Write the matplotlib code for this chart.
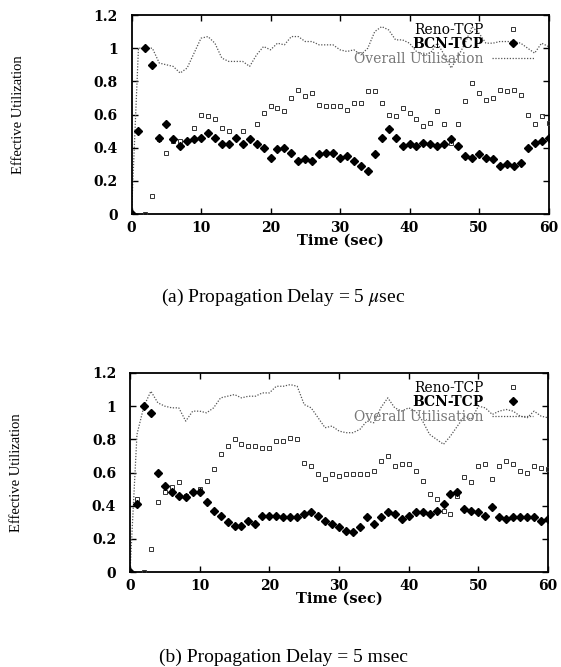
import numpy as np
import matplotlib
matplotlib.use("Agg")
import matplotlib.pyplot as plt

plt.rcParams['mathtext.fontset'] = 'stix'

time = list(range(61))

# (a) propagation delay = 5 usec
reno_a = [0, 0.50, 0, 0.11, 0.45, 0.37, 0.44, 0.44, 0.44, 0.52,
          0.60, 0.59, 0.57, 0.52, 0.50, 0.46, 0.50, 0.45, 0.54, 0.61,
          0.65, 0.64, 0.62, 0.70, 0.75, 0.71, 0.73, 0.66, 0.65, 0.65,
          0.65, 0.63, 0.67, 0.67, 0.74, 0.74, 0.67, 0.60, 0.59, 0.64,
          0.61, 0.57, 0.53, 0.55, 0.62, 0.54, 0.43, 0.54, 0.68, 0.79,
          0.73, 0.69, 0.70, 0.75, 0.74, 0.75, 0.72, 0.60, 0.54, 0.59, 0.55]
bcn_a = [0, 0.50, 1.00, 0.90, 0.46, 0.54, 0.45, 0.41, 0.44, 0.45,
         0.46, 0.49, 0.46, 0.42, 0.42, 0.46, 0.42, 0.45, 0.42, 0.40,
         0.34, 0.39, 0.40, 0.37, 0.32, 0.33, 0.32, 0.36, 0.37, 0.37,
         0.34, 0.35, 0.32, 0.29, 0.26, 0.36, 0.46, 0.51, 0.46, 0.41,
         0.42, 0.41, 0.43, 0.42, 0.41, 0.42, 0.45, 0.41, 0.35, 0.34,
         0.36, 0.34, 0.33, 0.29, 0.30, 0.29, 0.31, 0.40, 0.43, 0.44, 0.46]
overall_a = [0, 1.00, 1.00, 1.00, 0.91, 0.90, 0.89, 0.85, 0.88, 0.97,
             1.06, 1.07, 1.03, 0.94, 0.92, 0.92, 0.92, 0.89, 0.96, 1.01,
             0.99, 1.03, 1.02, 1.07, 1.07, 1.04, 1.04, 1.02, 1.02, 1.02,
             0.99, 0.98, 0.99, 0.96, 1.00, 1.10, 1.13, 1.11, 1.05, 1.05,
             1.03, 0.98, 0.96, 0.97, 1.03, 0.96, 0.88, 0.95, 1.03, 1.13,
             1.09, 1.03, 1.03, 1.04, 1.04, 1.04, 1.03, 1.00, 0.97, 1.03, 1.01]

# (b) propagation delay = 5 msec
reno_b = [0, 0.44, 0, 0.14, 0.42, 0.48, 0.51, 0.54, 0.46, 0.48,
          0.50, 0.55, 0.62, 0.71, 0.76, 0.80, 0.77, 0.76, 0.76, 0.75,
          0.75, 0.79, 0.79, 0.81, 0.80, 0.66, 0.64, 0.59, 0.56, 0.59,
          0.58, 0.59, 0.59, 0.59, 0.59, 0.61, 0.67, 0.70, 0.64, 0.65,
          0.65, 0.61, 0.55, 0.47, 0.44, 0.37, 0.35, 0.46, 0.57, 0.54,
          0.64, 0.65, 0.56, 0.64, 0.67, 0.65, 0.61, 0.60, 0.64, 0.63, 0.62]
bcn_b = [0, 0.41, 1.00, 0.96, 0.60, 0.52, 0.48, 0.46, 0.45, 0.48,
         0.48, 0.42, 0.37, 0.34, 0.30, 0.28, 0.28, 0.31, 0.29, 0.34,
         0.34, 0.34, 0.33, 0.33, 0.33, 0.35, 0.36, 0.34, 0.31, 0.29,
         0.27, 0.25, 0.24, 0.27, 0.33, 0.29, 0.33, 0.36, 0.35, 0.32,
         0.34, 0.36, 0.36, 0.35, 0.37, 0.41, 0.47, 0.48, 0.38, 0.37,
         0.36, 0.34, 0.39, 0.33, 0.32, 0.33, 0.33, 0.33, 0.33, 0.31, 0.32]
overall_b = [0, 0.83, 1.00, 1.09, 1.02, 1.00, 0.99, 0.99, 0.91, 0.97,
             0.97, 0.96, 0.99, 1.05, 1.06, 1.07, 1.05, 1.06, 1.06, 1.08,
             1.08, 1.12, 1.12, 1.13, 1.12, 1.01, 0.99, 0.93, 0.87, 0.88,
             0.85, 0.84, 0.84, 0.86, 0.91, 0.90, 0.99, 1.05, 0.99, 0.97,
             0.99, 0.97, 0.91, 0.83, 0.80, 0.77, 0.82, 0.88, 0.94, 0.92,
             1.00, 0.99, 0.95, 0.97, 0.98, 0.97, 0.94, 0.93, 0.97, 0.94, 0.93]

xticks = [0, 10, 20, 30, 40, 50, 60]
yticks = [0, 0.2, 0.4, 0.6, 0.8, 1.0, 1.2]
ytick_labels = ['0', '0.2', '0.4', '0.6', '0.8', '1', '1.2']
series_names = ['Reno-TCP', 'BCN-TCP', 'Overall Utilisation']
captions = ['(a) Propagation Delay = 5 $\\mu$sec', '(b) Propagation Delay = 5 msec']

W, H = 561, 667
fig = plt.figure(figsize=(W / 100, H / 100), dpi=100)
ax1 = fig.add_axes([131.5 / W, 1 - 214 / H, 417 / W, 199 / H])
ax2 = fig.add_axes([130 / W, 1 - 572 / H, 418 / W, 199 / H])


def draw_panel(ax, reno, bcn, overall):
    ax.plot(time, overall, color='#555555', lw=0.9, ls=(0, (1, 1.3)),
            label=series_names[2], zorder=2)
    ax.plot(time, reno, ls='none', marker='s', ms=3.3, mfc='none', mec='#333333',
            mew=0.7, label=series_names[0], zorder=3)
    ax.plot(time, bcn, ls='none', marker='D', ms=3.6, color='black',
            label=series_names[1], zorder=4)
    ax.set_xlim(0, 60)
    ax.set_ylim(0, 1.2)
    ax.set_xticks(xticks)
    ax.set_xticklabels([str(v) for v in xticks], family='DejaVu Serif',
                       fontweight='bold', fontsize=10)
    ax.set_yticks(yticks)
    ax.set_yticklabels(ytick_labels, family='DejaVu Serif',
                       fontweight='bold', fontsize=10)
    ax.tick_params(direction='in', length=4, width=1, top=True, right=True)
    ax.tick_params(axis='y', pad=10)
    ax.tick_params(axis='x', pad=5)
    for s in ax.spines.values():
        s.set_linewidth(1.3)
    ax.set_xlabel('Time (sec)', family='DejaVu Serif', fontweight='bold',
                  fontsize=10.5, labelpad=-1)
    ax.set_ylabel('Effective Utilization', family='Liberation Serif', fontsize=10.5)
    ax.yaxis.set_label_coords(-0.255, 0.5)

    h, l = ax.get_legend_handles_labels()
    order = [1, 2, 0]
    leg = ax.legend([h[i] for i in order], [l[i] for i in order],
                    loc='upper right', bbox_to_anchor=(0.965, 0.96),
                    frameon=False, markerfirst=False, numpoints=1,
                    handlelength=3.0, handletextpad=0.6, labelspacing=0.02,
                    borderpad=0, borderaxespad=0,
                    prop={'family': 'DejaVu Serif', 'size': 10})
    vp = leg._legend_box._children[-1]._children[0]
    vp.align = 'right'
    texts = leg.get_texts()
    texts[1].set_fontweight('bold')
    texts[2].set_color('#777777')


draw_panel(ax1, reno_a, bcn_a, overall_a)
draw_panel(ax2, reno_b, bcn_b, overall_b)

fig.text(0.505, 1 - 297 / H, captions[0], ha='center', va='center',
         family='Liberation Serif', fontsize=14)
fig.text(0.505, 1 - 657 / H, captions[1], ha='center', va='center',
         family='Liberation Serif', fontsize=14)

fig.savefig('out.png', dpi=100)
